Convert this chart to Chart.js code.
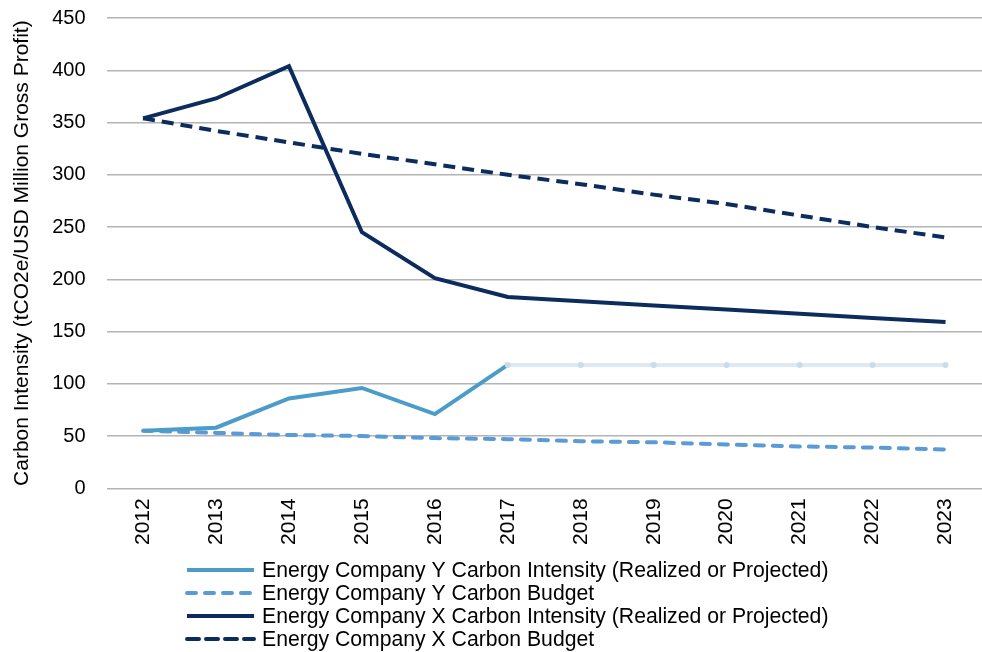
<!DOCTYPE html>
<html>
<head>
<meta charset="utf-8">
<script src="https://cdn.jsdelivr.net/npm/chart.js@4.4.0/dist/chart.umd.min.js"></script>
<style>
  html, body { margin: 0; padding: 0; background: #fff; }
  #wrap { width: 982px; height: 652px; position: relative; }
</style>
</head>
<body>
<div id="wrap"><canvas id="grafico"></canvas></div>
<script>
// Dados
const anos = ['2012', '2013', '2014', '2015', '2016', '2017', '2018', '2019', '2020', '2021', '2022', '2023'];
const yIntensidade = [55, 58, 86, 96, 71, 118, null, null, null, null, null, null];
const yProjecao = [null, null, null, null, null, 118, 118, 118, 118, 118, 118, 118];
const yOrcamento = [55, 53, 51, 50, 48, 47, 45, 44, 42, 40, 39, 37];
const xIntensidade = [354, 373, 404, 245, 201, 183, 179, 175, 171, 167, 163, 159];
const xOrcamento = [354, 342, 331, 320, 310, 300, 291, 281, 272, 261, 250, 240];
const ticksY = [0, 50, 100, 150, 200, 250, 300, 350, 400, 450];

const fonte = 'Liberation Sans, Arial, sans-serif';

// legenda desenhada à mão, alinhada à esquerda como no original
const legendaPlugin = {
    id: 'legendaManual',
    afterDraw(chart) {
        const ctx = chart.ctx;
        const itens = chart.data.datasets.filter(d => d.legenda);
        ctx.save();
        ctx.font = '21.2px ' + fonte;
        ctx.textBaseline = 'middle';
        itens.forEach((d, i) => {
            const y = 570 + i * 23;
            ctx.beginPath();
            ctx.strokeStyle = d.borderColor;
            ctx.lineWidth = d.borderWidth;
            ctx.lineCap = d.borderDash ? 'round' : 'butt';
            ctx.setLineDash(d.borderDash || []);
            ctx.moveTo(187, y);
            ctx.lineTo(254, y);
            ctx.stroke();
            ctx.setLineDash([]);
            ctx.fillStyle = '#000';
            ctx.fillText(d.label, 262, y + 1);
        });
        ctx.restore();
    }
};

const ctx = document.getElementById('grafico').getContext('2d');
new Chart(ctx, {
    type: 'line',
    data: {
        labels: anos,
        datasets: [
            {
                label: 'Energy Company Y Projection',
                data: yProjecao,
                borderColor: '#dceaf4',
                backgroundColor: '#c8dcea',
                borderWidth: 4,
                pointRadius: 3,
                pointBorderWidth: 0,
                legenda: false
            },
            {
                label: 'Energy Company Y Carbon Intensity (Realized or Projected)',
                data: yIntensidade,
                borderColor: '#4b9cc8',
                borderWidth: 4,
                pointRadius: 0,
                legenda: true
            },
            {
                label: 'Energy Company Y Carbon Budget',
                data: yOrcamento,
                borderColor: '#5b9bd5',
                borderWidth: 4,
                borderDash: [9, 9],
                borderCapStyle: 'round',
                pointRadius: 0,
                legenda: true
            },
            {
                label: 'Energy Company X Carbon Intensity (Realized or Projected)',
                data: xIntensidade,
                borderColor: '#0c2c5e',
                borderWidth: 4,
                pointRadius: 0,
                legenda: true
            },
            {
                label: 'Energy Company X Carbon Budget',
                data: xOrcamento,
                borderColor: '#0c2c5e',
                borderWidth: 4,
                borderDash: [12, 7],
                pointRadius: 0,
                legenda: true
            }
        ]
    },
    options: {
        responsive: true,
        maintainAspectRatio: false,
        animation: false,
        spanGaps: false,
        layout: { autoPadding: false, padding: { top: 0, right: 0, left: 10, bottom: 105 } },
        plugins: {
            legend: { display: false },
            tooltip: { enabled: false }
        },
        scales: {
            x: {
                offset: true,
                afterFit(scale) { scale.paddingRight = 0; },
                grid: { display: false, offset: true },
                border: { display: false },
                ticks: {
                    color: '#000',
                    font: { family: fonte, size: 21 },
                    minRotation: 90,
                    maxRotation: 90,
                    padding: 2
                }
            },
            y: {
                min: 0,
                max: 450,
                afterBuildTicks(axis) { axis.ticks = ticksY.map(v => ({ value: v })); },
                grid: { color: '#b4b4b4', lineWidth: 1.5, drawTicks: true, tickLength: 15, tickColor: 'rgba(0,0,0,0)' },
                border: { display: false },
                ticks: {
                    color: '#000',
                    font: { family: fonte, size: 20 },
                    padding: 6
                },
                title: {
                    display: true,
                    text: 'Carbon Intensity (tCO2e/USD Million Gross Profit)',
                    color: '#000',
                    font: { family: fonte, size: 21 },
                    padding: { top: 0, bottom: 11 }
                }
            }
        }
    },
    plugins: [legendaPlugin]
});
</script>
</body>
</html>
